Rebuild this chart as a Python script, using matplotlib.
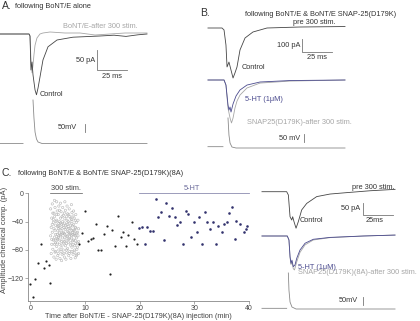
import numpy as np
import matplotlib.pyplot as plt

plt.rcParams['font.family'] = ['Liberation Sans', 'DejaVu Sans']

# ---- panel A traces (ms, pA / mV) ----
a_ctrl_t = [-25.0, -0.8, 0.0, 0.8, 1.7, 2.5, 4.2, 5.4, 6.7, 8.3, 10.8, 15.0, 22.5, 35.8, 58.3, 70, 80, 90, 97.5]
a_ctrl_i = [0, 0, -5, -90, -70, -102, -140, -152, -135, -108, -65, -32, -15, -8, -5, -3, -6, -2, 0]
a_post_t = [-25.0, -0.8, 0.0, 0.8, 1.7, 2.5, 3.3, 4.2, 5.8, 8.3, 10.8, 16.7, 29.2, 41.7, 54.2, 66.7, 79.2, 97.5]
a_post_i = [0, 0, -5, -65, -97, -78, -52, -28, -10, 0, 2.5, 5, 2.5, 2.5, -2.5, 0, 2.5, 2.5]
a_volt_t = [-25.0, -5.8, np.nan, 2.5, 3.3, 4.2, 5.4, 6.7, 10.0, 97.5]
a_volt_v = [0, 0, np.nan, 262, 154, 69, 27, 9, 0, 0]

# ---- panel B traces ----
b_ctrl_t = [-14.2, -2.5, -0.8, 0.8, 1.7, 3.3, 5.0, 6.7, 8.3, 10.0, 12.5, 16.7, 23.3, 35.0, 62.5, 100.0]
b_ctrl_i = [0, 0, -15, -128, -293, -256, -316, -376, -338, -293, -165, -75, -30, 0, 7.5, 11]
b_ht_t = [-14.2, -0.8, 0.8, 2.5, 3.3, 4.2, 5.0, 6.7, 9.2, 12.5, 18.3, 29.2, 54.2, 100.0]
b_ht_i = [0, 0, -38, -188, -226, -203, -241, -180, -120, -75, -38, -15, -4, 0]
b_post_t = [-14.2, -0.8, 0.8, 2.5, 4.2, 5.4, 6.7, 8.3, 10.0, 12.5, 18.3, 29.2, 54.2, 100.0]
b_post_i = [0, 0, -38, -211, -286, -323, -286, -211, -158, -113, -60, -23, -8, 0]
b_volt_t = [-14.2, -1.7, np.nan, 2.5, 3.3, 4.2, 5.8, 9.2, 100.0]
b_volt_v = [8, 8, np.nan, 181, 78, 30, 6, 0, 0]

# ---- panel C traces ----
c_ctrl_t = [-21.7, -1.1, 0.3, 1.7, 3.1, 3.9, 5.0, 6.7, 8.6, 11.4, 15.6, 23.9, 35.0, 48.9, 68.3, 89.2]
c_ctrl_i = [0, 0, -14, -107, -121, -107, -128, -156, -128, -78, -50, -21, -10, -4, 4, 10]
c_ht_t = [-21.7, -0.6, 0.8, 1.7, 2.5, 3.3, 4.4, 5.8, 7.3, 10.0, 14.2, 21.1, 35.0, 62.8, 89.2]
c_ht_i = [0, 0, -17, -88, -117, -103, -131, -124, -95, -60, -31, -14, -6, 0, 4]
c_post_t = [-21.7, -0.6, 0.8, 1.7, 2.5, 3.3, 4.4, 5.4, 7.3, 10.0, 14.2, 21.1, 35.0, 62.8, 89.2]
c_post_i = [0, 0, -17, -92, -122, -110, -140, -145, -110, -70, -38, -17, -7, 0, 4]
c_volt_t = [-21.7, -1.1, np.nan, 0.3, 0.8, 1.7, 3.3, 6.7, 89.2]
c_volt_v = [4, 4, np.nan, 217, 114, 42, 12, 0, 0]

# ---- panel C scatter (min, pA) ----
pre_x = [0, 0.4, 0.9, 1.4, 2.0, 2.4, 2.9, 3.4, 3.5, 8.9, 9.5, 10.0, 10.5, 11.0, 11.5, 12.0,
         12.4, 12.9, 13.5, 14.0, 14.5, 14.9, 15.5, 16.0, 16.5, 17.0, 17.4, 17.9, 18.5, 19.0, 19.5]
pre_y = [-128, -147, -121, -99, -72, -106, -96, -101, -127, -72, -56, -25, -67, -64, -63, -43,
         -80, -80, -57, -46, -114, -52, -75, -32, -61, -54, -75, -59, -40, -64, -72]
ht_x = [19.9, 20.4, 20.9, 21.4, 21.9, 22.4, 22.9, 23.4, 23.9, 24.4, 24.9, 25.4, 25.9, 26.4,
        26.9, 27.4, 27.9, 28.4, 28.9, 29.4, 29.9, 30.4, 30.9, 31.4, 31.9, 32.4, 32.9, 33.5,
        33.9, 34.4, 35.0, 35.4, 35.9, 36.4, 36.9, 37.5, 37.7, 38.4, 39.1, 39.4, 39.7]
ht_y = [-49, -47, -72, -47, -53, -53, -8, -34, -27, -66, -13, -32, -21, -34,
        -45, -40, -72, -25, -29, -62, -41, -55, -33, -71, -27, -41, -51, -41,
        -72, -46, -55, -43, -41, -28, -20, -64, -39, -44, -54, -50, -46]
stim_x = [3.7, 3.9, 3.8, 3.7, 3.9, 3.8, 4.0, 4.1, 4.2, 4.0, 4.2, 4.1, 4.3, 4.4, 4.5, 4.4, 4.6, 4.5,
          4.4, 4.6, 4.5, 4.7, 4.8, 4.9, 4.8, 5.0, 4.9, 5.0, 4.8, 5.0, 5.2, 5.1, 5.3, 5.2, 5.3, 5.1,
          5.3, 5.2, 5.4, 5.5, 5.6, 5.5, 5.7, 5.6, 5.5, 5.7, 5.6, 5.8, 5.7, 5.9, 6.0, 5.9, 6.1, 6.0,
          5.9, 6.1, 6.0, 6.2, 6.3, 6.4, 6.3, 6.5, 6.4, 6.3, 6.5, 6.4, 6.6, 6.5, 6.7, 6.8, 6.7, 6.9,
          6.8, 6.7, 6.9, 6.8, 7.0, 7.1, 7.2, 7.1, 7.3, 7.2, 7.1, 7.3, 7.2, 7.4, 7.5, 7.6, 7.5, 7.7,
          7.6, 7.5, 7.7, 7.6, 7.8, 7.9, 8.0, 7.9, 8.1, 8.0, 7.9, 8.1, 8.0, 8.2, 8.3, 8.4, 8.3, 8.5,
          8.4, 8.3, 8.5, 8.4, 8.7, 8.8, 8.7, 8.8, 8.6, 8.8,
          4.0, 4.3, 4.6, 4.9, 5.2, 5.4, 5.8, 6.2, 6.6, 7.0, 7.4, 7.8, 8.2, 8.6, 4.2, 4.7, 5.1, 5.5,
          5.9, 6.3, 6.7, 7.1, 7.5, 7.9, 8.3, 4.4, 4.9, 5.4, 5.8, 6.2, 6.6, 7.0, 7.4, 7.8, 8.2, 8.6,
          3.9, 4.3, 4.8, 5.3, 5.8, 6.2, 6.6, 7.0, 7.4, 7.8, 8.2, 4.6, 5.1, 5.6, 6.1, 6.6, 7.1, 7.6,
          8.1, 8.5, 5.0, 5.6, 6.2, 6.8, 7.3, 7.7, 8.1, 4.5, 5.2, 6.0, 6.9, 7.6]
stim_y = [-22, -35, -48, -60, -72, -85, -15, -28, -41, -55, -66, -79, -90, -10, -20, -33, -45, -52,
          -62, -70, -83, -93, -12, -25, -38, -47, -58, -65, -75, -88, -18, -30, -40, -50, -56, -62,
          -72, -80, -92, -14, -26, -35, -44, -53, -60, -68, -77, -86, -95, -20, -31, -40, -48, -55,
          -63, -70, -80, -90, -12, -24, -36, -45, -51, -58, -66, -74, -84, -93, -18, -29, -38, -47,
          -54, -61, -69, -78, -88, -22, -33, -42, -50, -57, -64, -73, -82, -92, -16, -27, -37, -46,
          -53, -60, -67, -76, -86, -25, -35, -44, -52, -59, -66, -74, -83, -91, -30, -41, -49, -56,
          -63, -71, -79, -88, -38, -50, -60, -68, -76, -85,
          -44, -50, -58, -64, -43, -48, -50, -42, -49, -55, -45, -58, -48, -55, -37, -40, -46, -42,
          -57, -62, -44, -50, -63, -52, -60, -72, -70, -66, -73, -68, -71, -65, -70, -72, -67, -70,
          -65, -28, -30, -24, -33, -28, -33, -30, -35, -32, -38, -82, -85, -82, -85, -80, -85, -82,
          -80, -86, -53, -58, -57, -60, -58, -55, -57, -66, -60, -45, -40, -40]

dark = '#454545'
light = '#a6a6a6'
navy = '#4b4b8e'
FS = 5.3

W, H = 420, 321
fig = plt.figure(figsize=(4.2, 3.21), dpi=100)


def px_axes(x0, y0, x1, y1):
    return fig.add_axes([x0 / W, 1 - y1 / H, (x1 - x0) / W, (y1 - y0) / H])


def trace_axes(x0, y0, x1, y1, ox, oy, sx, sy):
    # ox/oy = pixel of t=0 / zero level, sx = px per ms, sy = px per unit
    ax = px_axes(x0, y0, x1, y1)
    ax.set_xlim((x0 - ox) / sx, (x1 - ox) / sx)
    ax.set_ylim((oy - y1) / sy, (oy - y0) / sy)
    ax.axis('off')
    return ax


def scalebar(ax, x, y0, y1, x1):
    ax.plot([x, x, x1], [y0, y1, y1], color='#777777', lw=0.6, clip_on=False)


def vbar(ax, x, y0, y1):
    ax.plot([x, x], [y0, y1], color='#777777', lw=0.6, clip_on=False)


lw = 0.6

# ===== A =====
fig.text(2 / W, 1 - 6 / H, 'A.', fontsize=7.5, color='#333333', va='center')
fig.text(15 / W, 1 - 6 / H, 'following BoNT/E alone', fontsize=FS, color='#333333', va='center')

axA = trace_axes(0, 20, 150, 110, 30, 34, 1.2, 0.4)
axA.plot(a_post_t, a_post_i, color=light, lw=lw)
axA.plot(a_ctrl_t, a_ctrl_i, color=dark, lw=lw)
scalebar(axA, 55.8, -40, -90, 80.8)
axA.text(54.5, -65, '50 pA', fontsize=FS, ha='right', va='center', color='#333333')
axA.text(60, -97, '25 ms', fontsize=FS, ha='left', va='top', color='#333333')
axA.text(27.5, 17.5, 'BoNT/E-after 300 stim.', fontsize=FS, color=light, va='center')
axA.text(8.3, -152, 'Control', fontsize=FS, color='#333333', va='center')

axAv = trace_axes(0, 95, 150, 150, 30, 143.5, 1.2, 0.166)
axAv.plot(a_volt_t, a_volt_v, color='#8a8a8a', lw=lw)
vbar(axAv, 45.8, 69, 119)
axAv.text(39.2, 99, '50mV', fontsize=FS, ha='right', va='center', color='#333333')

# ===== B =====
fig.text(200 / W, 1 - 13 / H, 'B.', fontsize=7.5, color='#333333', va='center')
fig.text(245 / W, 1 - 14 / H, 'following BoNT/E & BoNT/E SNAP-25(D179K)', fontsize=FS,
         color='#333333', va='center')

axB = trace_axes(205, 15, 350, 85, 225, 28, 1.2, 0.133)
axB.plot(b_ctrl_t, b_ctrl_i, color=dark, lw=lw)
scalebar(axB, 64.2, -80, -180, 89.2)
axB.text(62.5, -130, '100 pA', fontsize=FS, ha='right', va='center', color='#333333')
axB.text(68, -195, '25 ms', fontsize=FS, ha='left', va='top', color='#333333')
axB.text(56.7, 45, 'pre 300 stim.', fontsize=FS, va='center', color='#333333')
axB.text(14.2, -300, 'Control', fontsize=FS, va='center', color='#333333')

axB2 = trace_axes(205, 70, 350, 130, 225, 80, 1.2, 0.133)
axB2.plot(b_post_t, b_post_i, color=light, lw=lw)
axB2.plot(b_ht_t, b_ht_i, color=navy, lw=lw)
axB2.text(16.7, -143, '5-HT (1\u03bcM)', fontsize=FS, va='center', color=navy)
axB2.text(18.3, -323, 'SNAP25(D179K)-after 300 stim.', fontsize=FS, va='center', color=light)

axBv = trace_axes(205, 110, 350, 152, 225, 148, 1.2, 0.166)
axBv.plot(b_volt_t, b_volt_v, color='#8a8a8a', lw=lw)
vbar(axBv, 65.8, 36, 86)
axBv.text(62.5, 60, '50 mV', fontsize=FS, ha='right', va='center', color='#333333')

# ===== C =====
fig.text(2 / W, 1 - 173 / H, 'C.', fontsize=7.5, color='#333333', va='center')
fig.text(18 / W, 1 - 174 / H, 'following BoNT/E & BoNT/E SNAP-25(D179K)(8A)', fontsize=FS,
         color='#333333', va='center')

ax = px_axes(27.7, 193.3, 249, 301)
ax.scatter(stim_x, stim_y, s=2.8, facecolors='none', edgecolors='#b4b4b4', linewidths=0.4, zorder=2)
ax.scatter(pre_x, pre_y, s=2.5, c='#222222', linewidths=0, zorder=3, clip_on=False)
ax.scatter(ht_x, ht_y, s=3.5, c='#33336e', linewidths=0, zorder=3, clip_on=False)
ax.plot([19.9, 40], [0.3, 0.3], color='#8c8cb0', lw=0.6, clip_on=False)
ax.text(29.5, 2, '5-HT', fontsize=FS, color='#6a6a9a', ha='center', va='bottom')
ax.plot([3.6, 9.4], [0.3, 0.3], color='#555555', lw=0.5, clip_on=False)
ax.text(6.5, 1.5, '300 stim.', fontsize=FS, color='#444444', ha='center', va='bottom')
ax.set_xlim(-0.5, 40)
ax.set_ylim(-152, 0)
ax.set_xticks([0, 10, 20, 30, 40])
ax.set_yticks([0, -40, -80, -120])
for s in ['top', 'right']:
    ax.spines[s].set_visible(False)
for s in ['left', 'bottom']:
    ax.spines[s].set_color('#888888')
    ax.spines[s].set_linewidth(0.6)
ax.tick_params(length=2, width=0.5, color='#888888', labelsize=5, labelcolor='#444444', pad=1)
fig.text(5 / W, 1 - 240 / H, 'Amplitude chemical comp. (pA)', rotation=90, fontsize=5.5,
         color='#444444', ha='center', va='center')
fig.text(138 / W, 1 - 316 / H, 'Time after BoNT/E - SNAP-25(D179K)(8A) injection (min)',
         fontsize=5.3, color='#444444', ha='center', va='center')

axC = trace_axes(258, 180, 400, 232, 288, 191.7, 1.2, 0.234)
axC.plot(c_ctrl_t, c_ctrl_i, color=dark, lw=lw)
scalebar(axC, 62.5, -50, -100, 87.5)
axC.text(60, -73, '50 pA', fontsize=FS, ha='right', va='center', color='#333333')
axC.text(65, -106, '25ms', fontsize=FS, ha='left', va='top', color='#333333')
axC.text(53.3, 20, 'pre 300 stim.', fontsize=FS, va='center', color='#333333')
axC.text(10, -125, 'Control', fontsize=FS, va='center', color='#333333')

axC2 = trace_axes(258, 226, 400, 280, 288, 236, 1.2, 0.234)
axC2.plot(c_post_t, c_post_i, color=light, lw=lw)
axC2.plot(c_ht_t, c_ht_i, color=navy, lw=lw)
axC2.text(8.3, -133, '5-HT (1\u03bcM)', fontsize=FS, va='center', color=navy)
axC2.text(8.3, -158, 'SNAP25(D179K)(8A)-after 300 stim.', fontsize=FS, va='center', color=light)

axCv = trace_axes(258, 268, 400, 312, 288, 309, 1.2, 0.166)
axCv.plot(c_volt_t, c_volt_v, color='#8a8a8a', lw=lw)
vbar(axCv, 62.5, 24, 74)
axCv.text(58.3, 49, '50mV', fontsize=FS, ha='right', va='center', color='#333333')

fig.savefig('out.png', dpi=100)
